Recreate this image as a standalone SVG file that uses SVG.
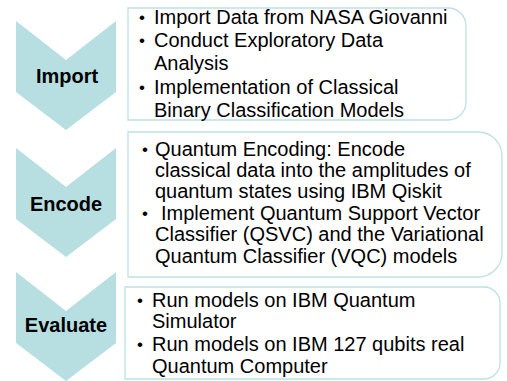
<svg xmlns="http://www.w3.org/2000/svg" width="507" height="381" viewBox="0 0 507 381">
<style>
.chev{fill:#b7dee1;stroke:none}
.box{fill:#ffffff;stroke:#bde1e5;stroke-width:1.3}
.lbl{font-family:"Liberation Sans",Arial,sans-serif;font-size:20px;font-weight:bold;fill:#000;text-anchor:middle}
.t{font-family:"Liberation Sans",Arial,sans-serif;font-size:20px;fill:#000}
.b{font-family:"Liberation Sans",Arial,sans-serif;font-size:17px;fill:#000}
</style>
<rect width="507" height="381" fill="#ffffff"/>
<g id="import">
<polygon class="chev" points="16,21 66,60 116,21 116,92 66,130 16,92"/>
<text class="lbl" x="67" y="83">Import</text>
</g>
<g id="import-box">
<path class="box" d="M128,8 H448 A18,18 0 0 1 466,26 V102 A18,18 0 0 1 448,120 H128 Z"/>
<text class="b" x="139" y="23">•</text>
<text class="t" x="154" y="24">Import Data from NASA Giovanni</text>
<text class="b" x="139" y="46">•</text>
<text class="t" x="154" y="47">Conduct Exploratory Data</text>
<text class="t" x="154" y="70">Analysis</text>
<text class="b" x="139" y="93">•</text>
<text class="t" x="154" y="94">Implementation of Classical</text>
<text class="t" x="154" y="117">Binary Classification Models</text>
</g>
<g id="encode">
<polygon class="chev" points="16,148 66,187 116,148 116,219 66,257 16,219"/>
<text class="lbl" x="66" y="211">Encode</text>
</g>
<g id="encode-box">
<path class="box" d="M128,132 H478 A24,24 0 0 1 502,156 V253 A24,24 0 0 1 478,277 H128 Z"/>
<text class="b" x="142" y="155">•</text>
<text class="t" x="155" y="156">Quantum Encoding: Encode</text>
<text class="t" x="155" y="177">classical data into the amplitudes of</text>
<text class="t" x="155" y="198">quantum states using IBM Qiskit</text>
<text class="b" x="142" y="219">•</text>
<text class="t" x="161" y="220">Implement Quantum Support Vector</text>
<text class="t" x="155" y="241">Classifier (QSVC) and the Variational</text>
<text class="t" x="155" y="263">Quantum Classifier (VQC) models</text>
</g>
<g id="evaluate">
<polygon class="chev" points="16,272 66,311 116,272 116,343 66,381 16,343"/>
<text class="lbl" x="66" y="332">Evaluate</text>
</g>
<g id="evaluate-box">
<path class="box" d="M125,287 H484 A16,16 0 0 1 500,303 V363 A16,16 0 0 1 484,379 H125 Z"/>
<text class="b" x="137" y="306">•</text>
<text class="t" x="152" y="307">Run models on IBM Quantum</text>
<text class="t" x="152" y="328">Simulator</text>
<text class="b" x="137" y="350">•</text>
<text class="t" x="152" y="351">Run models on IBM 127 qubits real</text>
<text class="t" x="152" y="373">Quantum Computer</text>
</g>
<g id="connectors"></g>
</svg>
